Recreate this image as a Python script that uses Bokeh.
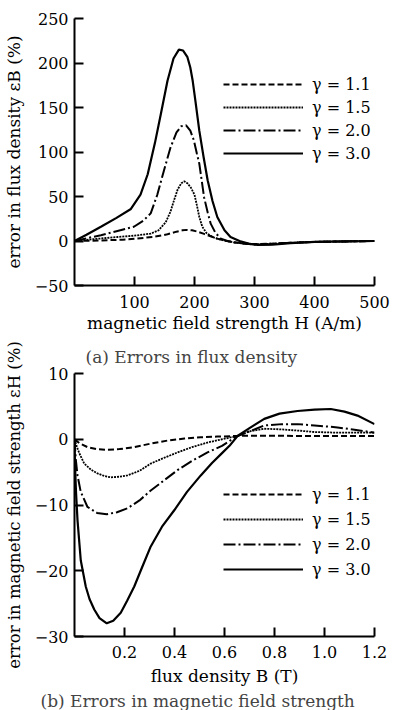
from bokeh.plotting import figure
from bokeh.layouts import column
from bokeh.models import Legend, LegendItem, FixedTicker, Range1d, Title
from bokeh.core.properties import value
from bokeh.embed import file_html
from bokeh.resources import INLINE

# ---------------- (a) errors in flux density ----------------
H_g30 = [0, 20, 44, 70, 94, 110, 122, 134, 144, 155, 165, 174, 181, 188, 193, 197, 202, 208, 215, 222, 230, 238, 250, 260, 275, 290, 305, 330, 360, 400, 450, 500]
eB_g30 = [0, 7, 16, 26, 36, 52, 75, 110, 143, 180, 205, 215, 214, 207, 195, 180, 155, 124, 95, 68, 45, 27, 12, 4.5, 0, -3, -4.5, -4, -2.5, -1, -0.5, 0]

H_g20 = [0, 20, 44, 70, 99, 115, 127, 138, 149, 160, 170, 178, 186, 193, 199, 204, 208, 212, 216, 222, 227, 235, 244, 255, 270, 290, 305, 330, 360, 400, 450, 500]
eB_g20 = [0, 3, 6.5, 11, 16, 23, 31, 52, 79, 105, 122, 129, 130, 124, 113, 98, 87, 68, 49, 32, 19.5, 9, 2.7, 0, -2, -3.5, -4, -3.5, -2, -1, -0.5, 0]

H_g15 = [0, 30, 72, 100, 127, 140, 152, 160, 166, 172, 178, 183, 188, 194, 200, 204, 208, 213, 220, 230, 240, 250, 265, 285, 305, 330, 360, 400, 450, 500]
eB_g15 = [0, 2, 4.5, 6, 8.3, 12, 21, 33, 46, 58, 65, 67, 65, 60, 52, 40, 27, 16, 9, 4.5, 2, 0.5, -1.5, -3, -3.5, -3, -2, -1, -0.5, 0]

H_g11 = [0, 40, 80, 100, 130, 155, 170, 180, 188, 196, 205, 216, 228, 238, 250, 265, 285, 305, 330, 360, 400, 450, 500]
eB_g11 = [0, 0.5, 1.5, 2.5, 4.5, 7.5, 10.5, 12, 12.5, 12, 10.5, 8, 5, 2.7, 0.5, -1.5, -3, -3.5, -3, -2, -1, -0.5, 0]

a_xticks = [100, 200, 300, 400, 500]
a_yticks = [-50, 0, 50, 100, 150, 200, 250]
a_ylabels = ["\u221250", "0", "50", "100", "150", "200", "250"]

# ---------------- (b) errors in magnetic field strength ----------------
B_g30 = [0, 0.002, 0.006, 0.012, 0.025, 0.045, 0.06, 0.079, 0.1, 0.129, 0.155, 0.185, 0.21, 0.239, 0.27, 0.305, 0.35, 0.399, 0.45, 0.505, 0.55, 0.585, 0.62, 0.652, 0.7, 0.759, 0.82, 0.892, 0.96, 1.025, 1.08, 1.132, 1.2]
eH_g30 = [0, -4, -8, -12.3, -18.4, -22.4, -24.3, -25.9, -27.2, -28, -27.6, -26.4, -24.6, -22.4, -19.5, -16.3, -13.3, -10.8, -8, -5.5, -3.6, -2.3, -1, 0.5, 1.7, 3.1, 3.9, 4.3, 4.5, 4.6, 4.2, 3.6, 2.3]

B_g20 = [0, 0.005, 0.012, 0.025, 0.052, 0.09, 0.129, 0.17, 0.212, 0.26, 0.305, 0.36, 0.412, 0.47, 0.532, 0.59, 0.652, 0.7, 0.759, 0.83, 0.892, 0.96, 1.052, 1.12, 1.2]
eH_g20 = [0, -3, -5.5, -8, -10.3, -11.2, -11.4, -11.1, -10.5, -9.3, -7.8, -6.2, -4.7, -3.3, -2, -1, 0.5, 1.2, 2.1, 2.3, 2.3, 2.1, 1.8, 1.45, 1.0]

B_g15 = [0, 0.01, 0.02, 0.039, 0.065, 0.092, 0.12, 0.145, 0.18, 0.212, 0.26, 0.305, 0.36, 0.412, 0.47, 0.532, 0.59, 0.652, 0.7, 0.759, 0.83, 0.9, 0.96, 1.05, 1.12, 1.2]
eH_g15 = [0, -1.2, -2.2, -3.7, -4.6, -5.2, -5.6, -5.8, -5.7, -5.5, -4.8, -3.7, -2.8, -2, -1.2, -0.5, 0, 0.5, 1.2, 1.6, 1.5, 1.3, 1.1, 1.0, 1.0, 1.0]

B_g11 = [0, 0.02, 0.052, 0.09, 0.129, 0.18, 0.239, 0.3, 0.372, 0.44, 0.505, 0.57, 0.652, 0.7, 0.8, 0.9, 1.0, 1.1, 1.2]
eH_g11 = [0, -0.6, -1.2, -1.5, -1.6, -1.5, -1.2, -0.7, -0.2, 0.1, 0.3, 0.4, 0.5, 0.55, 0.55, 0.5, 0.5, 0.5, 0.5]

b_xticks = [0.2, 0.4, 0.6, 0.8, 1.0, 1.2]
b_xlabels = ["0.2", "0.4", "0.6", "0.8", "1.0", "1.2"]
b_yticks = [-30, -20, -10, 0, 10]
b_ylabels = ["\u221230", "\u221220", "\u221210", "0", "10"]

gammas = ["\u03b3 = 1.1", "\u03b3 = 1.5", "\u03b3 = 2.0", "\u03b3 = 3.0"]
dashes = ["6 3", "2 1", "12 3 2 3", "solid"]
widths = [2, 1.8, 2, 2.2]

FONT = "DejaVu Serif"


def style(p, xticks, yticks, xlabels, ylabels, ylabel_size):
    p.outline_line_color = None
    p.xgrid.visible = False
    p.ygrid.visible = False
    p.xaxis.ticker = FixedTicker(ticks=xticks)
    p.yaxis.ticker = FixedTicker(ticks=yticks)
    p.xaxis.major_label_overrides = {t: l for t, l in zip(xticks, xlabels)}
    p.yaxis.major_label_overrides = {t: l for t, l in zip(yticks, ylabels)}
    for ax in (p.xaxis[0], p.yaxis[0]):
        ax.axis_line_width = 2
        ax.axis_line_color = "black"
        ax.major_tick_line_width = 2
        ax.major_tick_line_color = "black"
        ax.major_tick_in = 9
        ax.major_tick_out = 0
        ax.minor_tick_line_color = None
        ax.major_label_text_font = FONT
        ax.major_label_text_font_size = "16px"
        ax.major_label_text_color = "black"
        ax.axis_label_text_font = FONT
        ax.axis_label_text_font_size = "17px"
        ax.axis_label_text_font_style = "normal"
        ax.axis_label_text_color = "black"
    p.yaxis.axis_label_text_font_size = ylabel_size
    p.yaxis.major_label_standoff = 6
    p.yaxis.axis_label_standoff = 8


def add_lines(p, xs, ys, loc, spacing):
    rs = []
    for x, y, d, w in zip(xs, ys, dashes, widths):
        rs.append(p.line(x, y, line_color="black", line_width=w, line_dash=d))
    items = [LegendItem(label=value(g), renderers=[r]) for g, r in zip(gammas, rs)]
    leg = Legend(items=items, location=loc, glyph_width=80, glyph_height=20,
                 label_height=20, spacing=spacing, label_standoff=9, padding=0,
                 margin=0, border_line_color=None, background_fill_alpha=0,
                 label_text_font=FONT, label_text_font_size="16px",
                 label_text_color="black")
    p.add_layout(leg)


# figure (a)
pa = figure(frame_width=300, frame_height=267, min_border_left=69, min_border_right=16,
            min_border_top=18, min_border_bottom=53,
            x_range=Range1d(0, 500), y_range=Range1d(-50, 250),
            output_backend="svg", toolbar_location=None,
            x_axis_label="magnetic field strength H (A/m)",
            y_axis_label="error in flux density \u03b5B (%)")
style(pa, a_xticks, a_yticks, [str(t) for t in a_xticks], a_ylabels, "17px")
pa.xaxis.major_label_standoff = 10
pa.xaxis.axis_label_standoff = 2
add_lines(pa, [H_g11, H_g15, H_g20, H_g30], [eB_g11, eB_g15, eB_g20, eB_g30], (149, 122), 3)

# figure (b)
pb = figure(frame_width=300, frame_height=263, min_border_left=69, min_border_right=16,
            min_border_top=35, min_border_bottom=73,
            x_range=Range1d(0, 1.2), y_range=Range1d(-30, 10),
            output_backend="svg", toolbar_location=None,
            x_axis_label="flux density B (T)",
            y_axis_label="error in magnetic field strength \u03b5H (%)")
style(pb, b_xticks, b_yticks, b_xlabels, b_ylabels, "16.5px")
pb.xaxis.major_label_standoff = 9
pb.xaxis.axis_label_standoff = 5
add_lines(pb, [B_g11, B_g15, B_g20, B_g30], [eH_g11, eH_g15, eH_g20, eH_g30], (149, 57), 5)
pb.add_layout(Title(text="(a) Errors in flux density", align="left", offset=11,
                    text_font=FONT, text_font_size="17px", text_font_style="normal",
                    standoff=13), "above")
pb.add_layout(Title(text="(b) Errors in magnetic field strength", align="left", offset=-34,
                    text_font=FONT, text_font_size="17px", text_font_style="normal",
                    standoff=0), "below")

layout = column(pa, pb, spacing=0)
open("out.html", "w").write(file_html(layout, INLINE))
